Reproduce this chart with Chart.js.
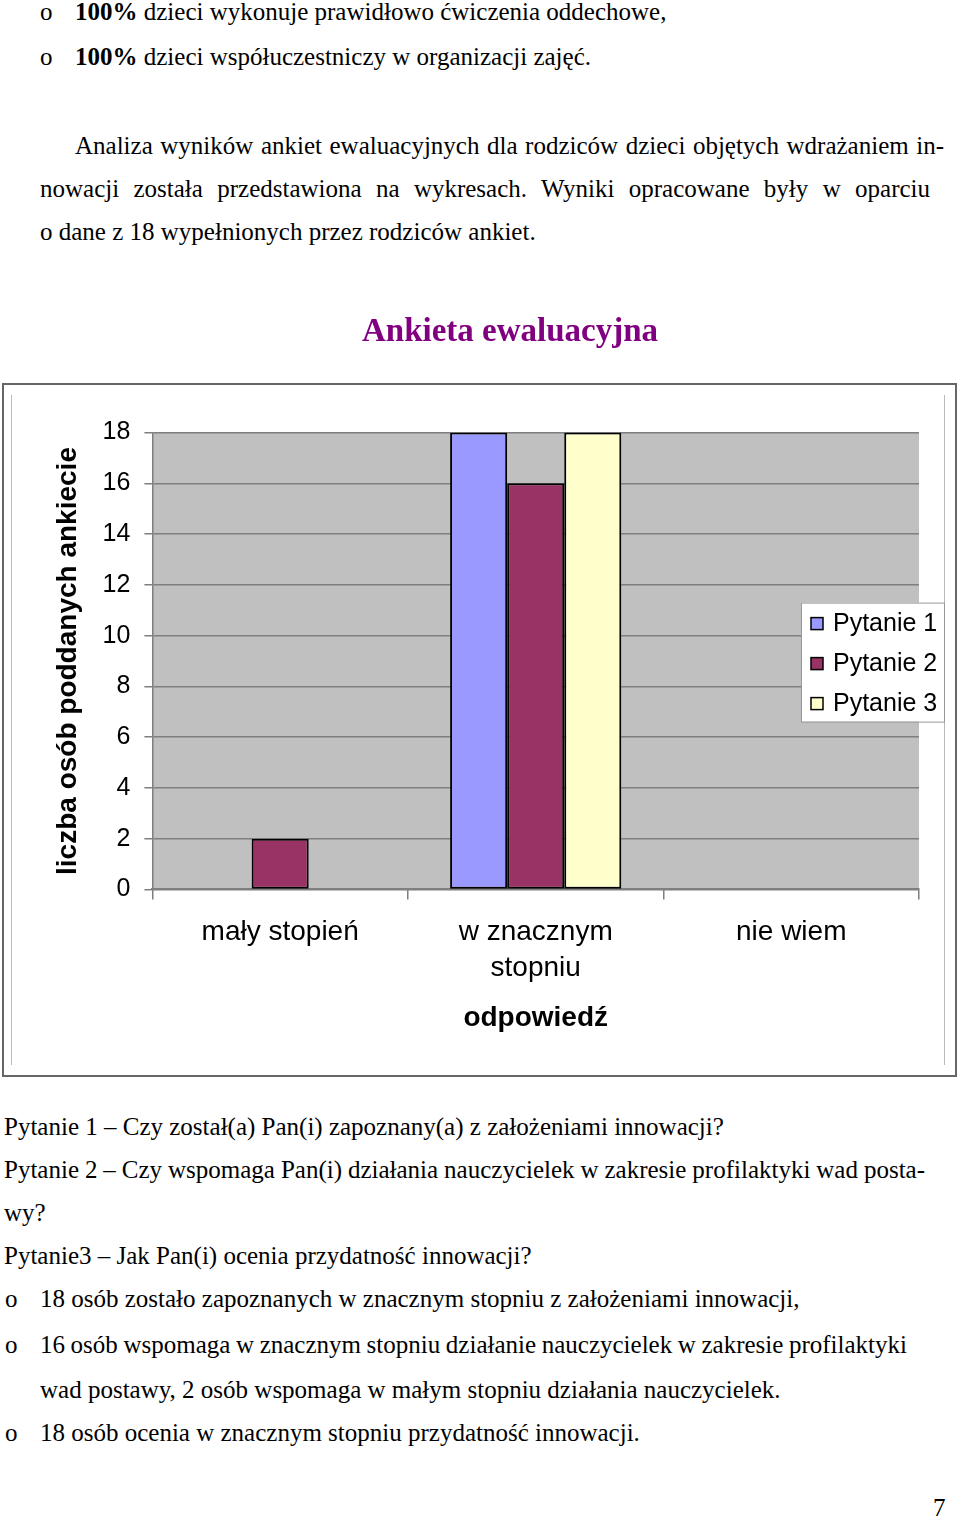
<!DOCTYPE html>
<html lang="pl">
<head>
<meta charset="UTF-8">
<title>Ankieta ewaluacyjna</title>
<script src="https://cdn.jsdelivr.net/npm/chart.js"></script>
<style>
  html, body { margin: 0; padding: 0; background: #fff; }
  body {
    width: 960px; height: 1518px; position: relative; overflow: hidden;
    font-family: "Times New Roman", "Liberation Serif", serif; font-size: 25px; color: #000;
  }
  .ln { position: absolute; white-space: nowrap; line-height: 30px; height: 30px; }
  #ramka { position: absolute; left: 2px; top: 383px; width: 951px; height: 690px; border: 2px solid #666; }
  .pion { position: absolute; top: 395px; height: 670px; width: 0; border-left: 1px solid #bbb; }
  #wykres { position: absolute; left: 0; top: 280px; z-index: 2; }
</style>
</head>
<body>
  <!-- tekst nad wykresem -->
  <div class="ln" style="left:40px; top:-3px">o</div>
  <div class="ln" style="left:75px; top:-3px"><b>100%</b> dzieci wykonuje prawidłowo ćwiczenia oddechowe,</div>
  <div class="ln" style="left:40px; top:42px">o</div>
  <div class="ln" style="left:75px; top:42px"><b>100%</b> dzieci współuczestniczy w organizacji zajęć.</div>
  <div class="ln j" data-w="869" style="left:75px; top:131px">Analiza wyników ankiet ewaluacyjnych dla rodziców dzieci objętych wdrażaniem in-</div>
  <div class="ln j" data-w="890" style="left:40px; top:174px">nowacji została przedstawiona na wykresach. Wyniki opracowane były w oparciu</div>
  <div class="ln" style="left:40px; top:217px">o dane z 18 wypełnionych przez rodziców ankiet.</div>

  <div id="ramka"></div>
  <div class="pion" style="left:11px"></div>
  <div class="pion" style="left:944px"></div>
  <canvas id="wykres" width="1020" height="800"></canvas>

  <!-- tekst pod wykresem -->
  <div class="ln" style="left:4px; top:1112px">Pytanie 1 – Czy został(a) Pan(i) zapoznany(a) z założeniami innowacji?</div>
  <div class="ln j" data-w="921" style="left:4px; top:1155px">Pytanie 2 – Czy wspomaga Pan(i) działania nauczycielek w zakresie profilaktyki wad posta-</div>
  <div class="ln" style="left:4px; top:1198px">wy?</div>
  <div class="ln" style="left:4px; top:1241px">Pytanie3 – Jak Pan(i) ocenia przydatność innowacji?</div>
  <div class="ln" style="left:5px; top:1284px">o</div>
  <div class="ln" style="left:40px; top:1284px">18 osób zostało zapoznanych w znacznym stopniu z założeniami innowacji,</div>
  <div class="ln" style="left:5px; top:1330px">o</div>
  <div class="ln j" data-w="867" style="left:40px; top:1330px">16 osób wspomaga w znacznym stopniu działanie nauczycielek w zakresie profilaktyki</div>
  <div class="ln" style="left:40px; top:1375px">wad postawy, 2 osób wspomaga w małym stopniu działania nauczycielek.</div>
  <div class="ln" style="left:5px; top:1418px">o</div>
  <div class="ln" style="left:40px; top:1418px">18 osób ocenia w znacznym stopniu przydatność innowacji.</div>
  <div class="ln" style="left:933px; top:1493px">7</div>

<script>
  // dane wykresu
  const odpowiedzi = ['mały stopień', ['w znacznym', 'stopniu'], 'nie wiem'];
  const nazwySerii = ['Pytanie 1', 'Pytanie 2', 'Pytanie 3'];
  const pytanie1 = [0, 18, 0];
  const pytanie2 = [2, 16, 0];
  const pytanie3 = [0, 18, 0];
  const skalaY = { min: 0, max: 18, krok: 2 };

  const kolory = ['#9999FF', '#993366', '#FFFFCC'];
  const sans = 'Arial, "Liberation Sans", sans-serif';
  const serif = '"Times New Roman", "Liberation Serif", serif';

  // wyrównanie wierszy do pełnej szerokości (jak w justowanym akapicie)
  document.querySelectorAll('.j').forEach(el => {
    const r = document.createRange();
    r.selectNodeContents(el);
    const szer = r.getBoundingClientRect().width;
    const spacje = (el.textContent.match(/ /g) || []).length;
    el.style.wordSpacing = ((parseFloat(el.dataset.w) - szer) / spacje) + 'px';
  });

  // szare tło obszaru wykresu
  const tloWykresu = {
    id: 'tloWykresu',
    beforeDraw(chart) {
      const { ctx, chartArea: a } = chart;
      ctx.save();
      ctx.fillStyle = '#C0C0C0';
      ctx.fillRect(a.left, a.top, a.right - a.left, a.bottom - a.top);
      ctx.restore();
    }
  };

  // legenda nachodząca na prawą część wykresu
  const legendaWykresu = {
    id: 'legendaWykresu',
    afterDraw(chart) {
      const { ctx, chartArea: a } = chart;
      const x = a.right - 118, y = a.top + 170, w = 143, h = 119;
      ctx.save();
      ctx.fillStyle = '#fff';
      ctx.fillRect(x, y, w, h);
      ctx.strokeStyle = '#999';
      ctx.lineWidth = 1;
      ctx.strokeRect(x + 0.5, y + 0.5, w, h);
      ctx.font = '25px ' + sans;
      ctx.textBaseline = 'middle';
      chart.data.datasets.forEach((ds, i) => {
        const cy = y + 21 + i * 40;
        ctx.fillStyle = ds.backgroundColor;
        ctx.fillRect(x + 10, cy - 6, 12, 12);
        ctx.strokeStyle = '#000';
        ctx.lineWidth = 1.5;
        ctx.strokeRect(x + 10, cy - 6, 12, 12);
        ctx.fillStyle = '#000';
        ctx.fillText(ds.label, x + 32, cy + 1);
      });
      ctx.restore();
    }
  };

  const ctx = document.getElementById('wykres').getContext('2d');
  new Chart(ctx, {
    type: 'bar',
    data: {
      labels: odpowiedzi,
      datasets: [pytanie1, pytanie2, pytanie3].map((dane, i) => ({
        label: nazwySerii[i],
        data: dane,
        backgroundColor: kolory[i],
        borderColor: '#000',
        borderWidth: 2,
        borderSkipped: false,
        categoryPercentage: 0.67,
        barPercentage: 1.0
      }))
    },
    options: {
      responsive: false,
      animation: false,
      // symetryczny margines, żeby tytuł był nad środkiem ramki
      layout: { padding: { left: 101, right: 101, top: 0, bottom: 45 } },
      plugins: {
        legend: { display: false },
        tooltip: { enabled: false },
        title: {
          display: true,
          text: 'Ankieta ewaluacyjna',
          color: '#800080',
          font: { family: serif, size: 33, weight: 'bold', lineHeight: 1.2 },
          padding: { top: 33, bottom: 80 }
        }
      },
      scales: {
        x: {
          grid: { offset: true, drawOnChartArea: false, tickLength: 10, color: '#7f7f7f', lineWidth: 1.5 },
          border: { color: '#7f7f7f', width: 2 },
          ticks: {
            color: '#000', padding: 15, maxRotation: 0, autoSkip: false,
            font: { family: sans, size: 28, lineHeight: 1.286 }
          },
          title: {
            display: true, text: 'odpowiedź', color: '#000',
            font: { family: sans, size: 28, weight: 'bold', lineHeight: 1.2 },
            padding: { top: 0, bottom: 0 }
          }
        },
        y: {
          min: skalaY.min,
          max: skalaY.max,
          ticks: { stepSize: skalaY.krok, color: '#000', padding: 14, font: { family: sans, size: 25 } },
          grid: { color: '#7f7f7f', tickLength: 8, lineWidth: 1.5 },
          border: { color: '#7f7f7f', width: 1.5 },
          title: {
            display: true, text: 'liczba osób poddanych ankiecie', color: '#000',
            font: { family: sans, size: 28, weight: 'bold', lineHeight: 1.2 },
            padding: { top: -50, bottom: 4 }
          }
        }
      }
    },
    plugins: [tloWykresu, legendaWykresu]
  });
</script>
</body>
</html>
